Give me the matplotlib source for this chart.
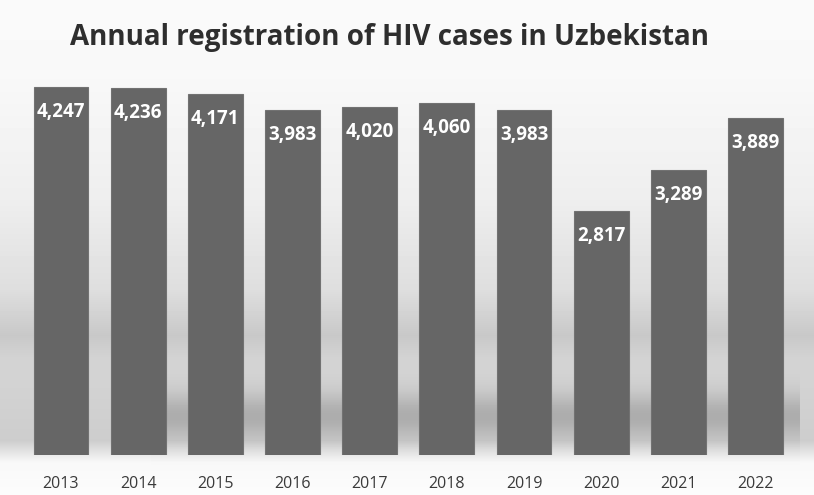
import matplotlib.pyplot as plt
import numpy as np

years = ['2013', '2014', '2015', '2016', '2017', '2018', '2019', '2020', '2021', '2022']
cases = [4247, 4236, 4171, 3983, 4020, 4060, 3983, 2817, 3289, 3889]
title = 'Annual registration of HIV cases in Uzbekistan'

W, H = 814, 495
fig = plt.figure(figsize=(W / 100, H / 100), dpi=100)

# background: soft grey gradient like the original slide
bg = fig.add_axes([0, 0, 1, 1])
rows = np.arange(H)
prof = np.interp(rows, [0, 80, 200, 290, 335, 360, 390, 440, 462, 495],
                 [250, 248, 238, 222, 200, 212, 210, 205, 248, 252])
img = np.repeat(prof[:, None], W, axis=1)
# slanted shadow behind the bars
xx = np.arange(W)[None, :]
yy = rows[:, None]
band = np.exp(-((yy - 415) / 22.0) ** 2) * (xx > 150) * (xx < 800)
img = img - 35 * band
bg.imshow(img, cmap='gray', vmin=0, vmax=255, aspect='auto', extent=[0, W, H, 0])
bg.set_xlim(0, W)
bg.set_ylim(H, 0)
bg.axis('off')

# main axes: baseline at ~455 px, bar 0 centre at ~61 px, spacing ~77 px
left = (61 - 38.6) / W
right = (755.5 + 38.6) / W
ymax = 4800
px_per = 368 / 4247
top_px = 455 - ymax * px_per
ax = fig.add_axes([left, (H - 455) / H, right - left, (455 - top_px) / H])
ax.patch.set_alpha(0)

x = np.arange(len(years))
bars = ax.bar(x, cases, width=0.71, color='#666666', edgecolor='#727272', linewidth=0.8)
ax.set_xlim(-0.5, len(years) - 0.5)
ax.set_ylim(0, ymax)

for b, v in zip(bars, cases):
    ax.annotate(f'{v:,}', (b.get_x() + b.get_width() / 2, v), xytext=(0, -25),
                textcoords='offset pixels',
                ha='center', va='center', color='white', fontsize=13.5,
                fontweight='bold', family='Open Sans')

ax.set_xticks(x)
ax.set_xticklabels(years, fontsize=11.5, color='#3a3a3a', family='Open Sans')
ax.tick_params(axis='x', length=0, pad=15)
ax.set_yticks([])
for s in ax.spines.values():
    s.set_visible(False)

fig.text(390 / W, 1 - 37 / H, title, ha='center', va='center', fontsize=20,
         fontweight='bold', color='#2e2e2e', family='Open Sans')

fig.savefig('out.png', dpi=100)
